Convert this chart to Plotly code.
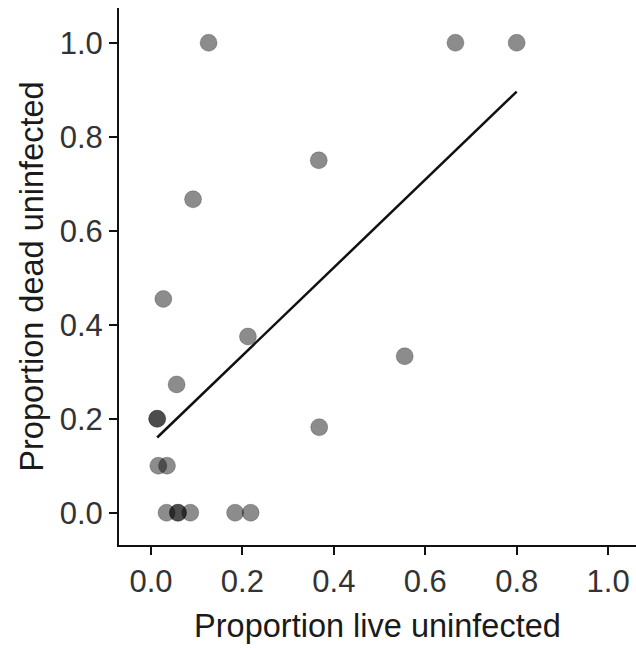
import plotly.graph_objects as go

# Data
prop_live_uninfected = [0.126, 0.666, 0.800, 0.367, 0.092, 0.027, 0.212, 0.555,
                        0.056, 0.0135, 0.0135, 0.368, 0.016, 0.035,
                        0.034, 0.059, 0.059, 0.086, 0.184, 0.218]
prop_dead_uninfected = [1.0, 1.0, 1.0, 0.75, 0.667, 0.455, 0.375, 0.333,
                        0.273, 0.2, 0.2, 0.182, 0.1, 0.1,
                        0.0, 0.0, 0.0, 0.0, 0.0, 0.0]

# Fitted regression line endpoints
fit_x = [0.0135, 0.800]
fit_y = [0.160, 0.896]

tick_vals = [0.0, 0.2, 0.4, 0.6, 0.8, 1.0]
tick_text = ["0.0", "0.2", "0.4", "0.6", "0.8", "1.0"]

FONT = "Liberation Sans, Arial, sans-serif"

fig = go.Figure()
fig.add_trace(go.Scatter(
    x=prop_live_uninfected, y=prop_dead_uninfected, mode="markers",
    marker=dict(size=17, color="rgba(0,0,0,0.45)",
                line=dict(width=1, color="rgba(0,0,0,0.22)")),
    showlegend=False, hoverinfo="x+y"))
fig.add_trace(go.Scatter(
    x=fit_x, y=fit_y, mode="lines",
    line=dict(color="#111111", width=2.5),
    showlegend=False))

axis_common = dict(
    showgrid=False, zeroline=False,
    showline=True, linecolor="#111111", linewidth=2,
    ticks="outside", ticklen=8, tickwidth=2, tickcolor="#111111",
    tickvals=tick_vals, ticktext=tick_text,
    tickfont=dict(family=FONT, size=31, color="#333333"),
)

fig.update_layout(
    width=636, height=648,
    margin=dict(l=119, r=0, t=8, b=103),
    plot_bgcolor="white", paper_bgcolor="white",
    xaxis=dict(range=[-0.070, 1.061],
               title=dict(text="Proportion live uninfected",
                          font=dict(family=FONT, size=32.5, color="#1a1a1a"),
                          standoff=16),
               **axis_common),
    yaxis=dict(range=[-0.0687, 1.074],
               title=dict(text="Proportion dead uninfected",
                          font=dict(family=FONT, size=32.5, color="#1a1a1a"),
                          standoff=6),
               **axis_common),
)

fig.write_html(
    "out.html",
    config={"displayModeBar": False},
    post_script="document.body.style.margin='0';document.body.style.overflow='hidden';",
)
